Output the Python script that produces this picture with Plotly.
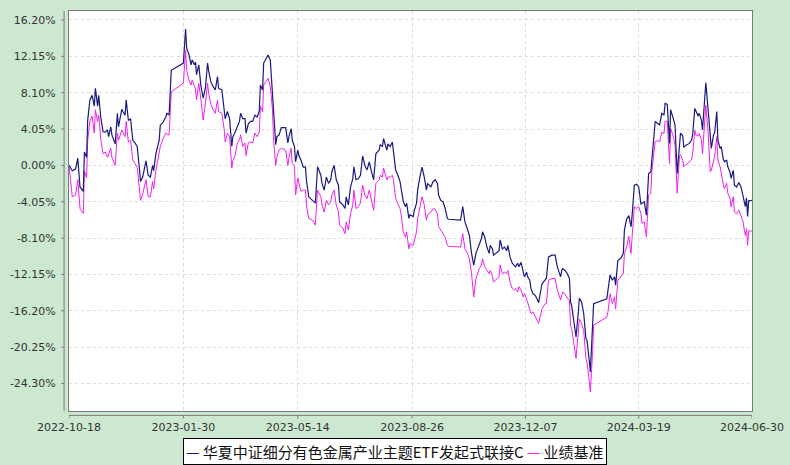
import plotly.graph_objects as go

# ---------------------------------------------------------------------
# Data (cumulative return, %)
# ---------------------------------------------------------------------
FUND_NAME = "华夏中证细分有色金属产业主题ETF发起式联接C"
BENCH_NAME = "业绩基准"

days_2022 = [
    "10-18", "10-21", "10-24", "10-26", "10-28", "10-31",
    "11-01", "11-03", "11-04", "11-06", "11-08", "11-10", "11-11", "11-13", "11-14", "11-16",
    "11-18", "11-20", "11-22", "11-23", "11-25", "11-26", "11-29",
    "12-01", "12-02", "12-05", "12-06", "12-08", "12-09", "12-11", "12-13", "12-15", "12-17",
    "12-19", "12-21", "12-22", "12-24", "12-27", "12-29", "12-31",
]
fund_2022 = [
    0.0, -0.6, -0.4, 0.8, -2.4, -2.9,
    1.5, 0.9, 5.05, 7.3, 7.8, 6.6, 8.6, 6.6, 7.8, 5.2,
    3.75, 3.7, 3.95, 3.2, 4.3, 3.4, 2.4,
    5.8, 4.3, 6.25, 6.0, 5.6, 7.3, 5.0, 5.2, 2.8, 2.5,
    2.1, -0.3, -1.8, -1.3, 0.5, -1.1, -1.3,
]
bench_2022 = [
    0.0, -3.5, -3.3, -1.6, -4.8, -5.35,
    -0.6, -1.4, 2.8, 4.9, 5.5, 3.6, 6.2, 4.9, 5.6, 2.8,
    1.3, 1.5, 0.9, 1.2, 1.9, 0.9, 0.0,
    3.6, 2.8, 3.95, 3.7, 3.2, 4.9, 2.6, 2.8, 0.6, 0.2,
    -0.2, -2.5, -3.9, -3.2, -1.6, -3.5, -3.5,
]

days_2023 = [
    "01-02", "01-03", "01-05", "01-08", "01-09", "01-11", "01-14", "01-15", "01-17", "01-18", "01-19", "01-30",
    "02-01", "02-02", "02-04", "02-06", "02-07", "02-09", "02-10", "02-11", "02-13", "02-15", "02-17", "02-19",
    "02-21", "02-22", "02-24", "02-26", "02-28",
    "03-02", "03-03", "03-06", "03-08", "03-09", "03-11", "03-13", "03-15", "03-16", "03-18", "03-20", "03-22",
    "03-23", "03-25", "03-27", "03-28", "03-30",
    "04-01", "04-03", "04-05", "04-07", "04-09", "04-10", "04-12", "04-13", "04-15", "04-17", "04-19", "04-21",
    "04-22", "04-24", "04-25", "04-27", "04-29",
    "05-03", "05-05", "05-06", "05-08", "05-09", "05-11", "05-12", "05-14", "05-15", "05-17", "05-19", "05-21",
    "05-22", "05-24", "05-26", "05-28", "05-30",
    "06-01", "06-04", "06-05", "06-07", "06-09", "06-11", "06-13", "06-14", "06-16", "06-18", "06-20", "06-21",
    "06-24", "06-26", "06-27", "06-29",
    "07-01", "07-03", "07-04", "07-06", "07-08", "07-10", "07-12", "07-14", "07-16", "07-18", "07-20", "07-22",
    "07-24", "07-27", "07-28", "07-30", "07-31",
    "08-03", "08-04", "08-06", "08-08", "08-09", "08-11", "08-13", "08-15", "08-16", "08-18", "08-20", "08-21",
    "08-23", "08-24", "08-27", "08-28", "08-30", "08-31",
    "09-02", "09-04", "09-06", "09-08", "09-09", "09-12", "09-14", "09-16", "09-18", "09-19", "09-21", "09-23",
    "09-25", "09-27", "09-28",
    "10-09", "10-11", "10-13", "10-15", "10-17", "10-19", "10-21", "10-23", "10-26", "10-28", "10-29", "10-31",
    "11-02", "11-04", "11-05", "11-07", "11-08", "11-11", "11-13", "11-14", "11-16", "11-18", "11-20", "11-21",
    "11-23", "11-25", "11-27", "11-28", "11-30",
    "12-01", "12-03", "12-05", "12-06", "12-08", "12-09", "12-11", "12-12", "12-14", "12-16", "12-18", "12-19",
    "12-22", "12-25", "12-26", "12-28", "12-31",
]
fund_2023 = [
    0.0, -0.6, 1.3, 2.8, 4.5, 4.7, 5.4, 5.8, 5.6, 7.5, 10.6, 11.4,
    15.2, 13.05, 12.4, 11.2, 11.75, 11.2, 11.5, 10.1, 11.2, 8.8, 7.5, 8.6,
    11.4, 10.5, 9.3, 8.8, 8.4,
    9.9, 8.6, 8.4, 6.2, 5.2, 6.0, 5.2, 2.1, 3.2, 3.7, 4.3, 4.9,
    5.8, 5.2, 5.2, 3.6, 4.6,
    4.9, 4.9, 5.6, 5.4, 6.0, 8.95, 8.4, 11.4, 11.9, 12.3, 11.75, 8.0,
    5.8, 2.3, 3.2, 3.4, 4.2,
    4.2, 2.5, 3.2, 4.1, 2.8, 2.1, 0.4, 1.7, 1.1, 0.55, -0.2, -0.2,
    -1.8, -3.5, -3.7, -3.9, -4.2,
    -0.15, -1.1, -2.0, -2.75, -1.3, -2.0, -1.6, -0.7, 0.0, -1.6, -2.2, -4.05,
    -4.4, -4.8, -3.5, -4.4,
    -2.4, -1.5, -0.15, -1.6, -1.5, -1.1, 1.05, 0.0, -0.5, 0.4, -0.7, -1.6,
    1.3, 1.7, 2.3, 2.1, 3.0,
    1.7, 2.4, 2.1, 2.6, 1.7, -0.5, -1.1, -1.8, -2.6, -4.05, -4.6, -4.2,
    -5.9, -5.5, -5.7, -5.0, -4.2, -2.75,
    -1.3, -0.2, -1.3, -2.75, -2.0, -2.4, -1.8, -1.6, -2.0, -3.3, -3.9, -4.05,
    -4.8, -5.9, -6.0,
    -6.1, -4.6, -6.3, -7.0, -7.8, -9.8, -11.1, -9.8, -8.9, -8.15, -7.4, -8.0,
    -9.1, -9.8, -8.9, -9.3, -10.0, -9.7, -9.5, -8.3, -9.3, -9.1, -9.5, -8.9,
    -10.2, -10.9, -11.1, -11.3, -10.9,
    -11.3, -10.8, -12.05, -12.4, -11.9, -12.4, -12.8, -13.7, -14.3, -14.5, -15.0, -15.3,
    -13.2, -12.8, -12.6, -10.2, -10.0,
]
bench_2023 = [
    -1.8, -2.6, -0.6, 1.2, 2.1, 2.8, 3.6, 3.5, 3.4, 5.8, 8.2, 9.15,
    12.85, 10.6, 9.5, 8.95, 9.5, 8.8, 8.6, 7.3, 9.15, 7.3, 5.05, 6.9,
    9.15, 8.0, 6.8, 6.2, 5.8,
    7.3, 6.0, 5.8, 4.1, 2.6, 3.6, 3.2, -0.3, 0.55, 1.1, 2.5, 2.8,
    3.4, 2.1, 2.5, 1.1, 2.5,
    2.6, 2.5, 3.6, 3.2, 3.7, 6.6, 6.0, 8.95, 9.3, 9.7, 8.8, 6.2,
    2.8, 0.0, 0.9, 1.7, 1.9,
    1.7, 0.0, 0.9, 1.9, 0.2, 0.0, -3.3, -1.4, -2.0, -2.9, -2.75, -2.75,
    -4.6, -5.9, -6.0, -6.2, -6.65,
    -2.75, -3.5, -4.4, -5.2, -3.9, -4.4, -4.05, -3.3, -2.75, -4.4, -5.2, -6.65,
    -7.0, -7.6, -6.3, -7.2,
    -5.4, -4.4, -2.75, -4.8, -4.6, -4.2, -2.2, -3.3, -3.7, -2.75, -3.9, -5.0,
    -2.0, -1.6, -1.1, -1.3, -0.3,
    -1.6, -1.3, -1.3, -1.1, -1.6, -3.7, -4.2, -4.8, -5.5, -7.4, -8.0, -7.4,
    -9.3, -8.7, -8.9, -8.3, -7.4, -5.9,
    -4.8, -3.5, -4.4, -6.1, -5.5, -5.2, -4.8, -4.9, -5.4, -6.8, -7.2, -7.6,
    -8.0, -8.9, -9.0,
    -9.1, -7.6, -9.3, -9.7, -10.4, -12.05, -14.65, -12.6, -11.5, -11.1, -10.4, -11.3,
    -11.7, -12.05, -11.7, -12.3, -13.0, -12.6, -12.4, -11.1, -12.05, -11.9, -12.05, -11.7,
    -13.0, -13.7, -13.9, -13.7, -14.1,
    -13.5, -13.9, -14.65, -14.3, -14.85, -15.2, -16.0, -16.5, -16.35, -16.9, -17.3, -17.6,
    -16.0, -15.4, -15.4, -12.8, -12.6,
]

days_2024 = [
    "01-03", "01-05", "01-07", "01-08", "01-09", "01-10", "01-12", "01-14", "01-16", "01-17", "01-18", "01-20",
    "01-22", "01-24", "01-25", "01-27", "01-29", "01-31",
    "02-01", "02-03", "02-04", "02-06", "02-07", "02-19", "02-20", "02-22", "02-24", "02-26", "02-27", "02-29",
    "03-03", "03-05", "03-06", "03-08", "03-10", "03-12", "03-13", "03-15", "03-17", "03-19", "03-21", "03-22",
    "03-24", "03-26", "03-28", "03-30", "03-31",
    "04-03", "04-05", "04-07", "04-09", "04-11", "04-12", "04-14", "04-16", "04-17", "04-19", "04-21", "04-23",
    "04-25", "04-26", "04-28", "04-29",
    "05-01", "05-04", "05-06", "05-07", "05-09", "05-10", "05-12", "05-13", "05-15", "05-16", "05-18", "05-19",
    "05-21", "05-23", "05-24", "05-26", "05-27", "05-29", "05-30",
    "06-01", "06-02", "06-04", "06-05", "06-07", "06-08", "06-10", "06-11", "06-13", "06-14", "06-16", "06-18",
    "06-20", "06-22", "06-23", "06-24", "06-25", "06-26", "06-27", "06-30",
]
fund_2024 = [
    -10.0, -11.3, -12.05, -12.4, -11.7, -11.5, -11.7, -12.05, -12.6, -15.2, -15.6, -17.3,
    -19.1, -16.5, -14.8, -15.2, -16.5, -19.3,
    -19.5, -21.7, -23.0, -18.0, -15.4, -14.85, -14.1, -12.2, -12.8, -12.4, -13.35, -10.6,
    -10.3, -9.8, -7.2, -6.0, -5.6, -6.85, -5.6, -2.2, -2.1, -2.4, -4.3, -4.2,
    -4.05, -5.55, -0.9, -0.75, 0.6,
    4.9, 4.7, 4.5, 5.8, 5.6, 6.9, 6.8, 2.45, 6.2, 5.4, 4.5, -0.9,
    2.45, 3.6, 3.3, 2.0,
    2.25, 2.45, 2.8, 3.4, 6.35, 6.0, 5.5, 5.8, 5.05, 3.95, 6.9, 9.2,
    6.35, 3.4, 1.9, 3.4, 3.6, 6.0, 2.8,
    1.9, 2.1, 0.65, 0.4, 0.6, -0.15, -0.75, -1.45, -0.55, -2.2, -2.4, -1.9,
    -2.4, -3.5, -4.4, -4.6, -3.6, -5.7, -3.95, -3.9,
]
bench_2024 = [
    -12.6, -13.9, -14.8, -15.0, -14.5, -14.1, -14.3, -14.8, -15.0, -17.8, -18.2, -19.9,
    -21.5, -18.7, -17.1, -17.6, -18.4, -21.5,
    -21.9, -23.95, -25.25, -21.0, -17.8, -16.9, -16.35, -14.3, -15.4, -14.65, -16.0, -12.8,
    -12.4, -12.05, -9.8, -9.1, -7.9, -9.8, -7.95, -4.6, -4.8, -4.6, -5.35, -6.45,
    -6.3, -7.95, -3.3, -3.1, -0.55,
    2.65, 2.75, 2.65, 3.7, 3.55, 4.9, 4.9, 0.2, 4.1, 3.4, 2.3, -3.1,
    1.0, 1.2, 0.6, -0.15,
    0.05, 0.3, 0.6, 1.3, 3.9, 3.4, 3.25, 3.55, 2.8, 1.3, 4.3, 6.7,
    3.9, -0.7, -0.55, 0.6, 1.0, 3.2, 0.6,
    -0.15, -0.9, -2.2, -2.6, -2.0, -3.1, -3.7, -4.6, -3.5, -5.2, -5.4, -5.0,
    -5.55, -6.3, -7.2, -7.8, -7.05, -8.9, -7.3, -7.3,
]

x_ticks = ["2022-10-18", "2023-01-30", "2023-05-14", "2023-08-26", "2023-12-07", "2024-03-19", "2024-06-30"]
y_ticks = [16.2, 12.15, 8.1, 4.05, 0.0, -4.05, -8.1, -12.15, -16.2, -20.25, -24.3]
y_labels = ["%.2f%%" % v for v in y_ticks]

# ---------------------------------------------------------------------
# Styling
# ---------------------------------------------------------------------
FUND_COLOR = "#1a1a80"
BENCH_COLOR = "#f020f0"
PAGE_BG = "#cde8d0"
FRAME = "#7a7a7a"
GRID = "#dcdcdc"
TICK_FONT = dict(family="DejaVu Sans", size=11, color="#333333")

dates = (["2022-" + d for d in days_2022]
         + ["2023-" + d for d in days_2023]
         + ["2024-" + d for d in days_2024])
fund = fund_2022 + fund_2023 + fund_2024
bench = bench_2022 + bench_2023 + bench_2024
assert len(dates) == len(fund) == len(bench)

fig = go.Figure()
fig.add_trace(go.Scatter(x=dates, y=bench, mode="lines", name=BENCH_NAME,
                         line=dict(color=BENCH_COLOR, width=1)))
fig.add_trace(go.Scatter(x=dates, y=fund, mode="lines", name=FUND_NAME,
                         line=dict(color=FUND_COLOR, width=1.2)))

axis_common = dict(
    tickfont=TICK_FONT,
    ticks="",
    automargin=False,
    showgrid=True,
    gridcolor=GRID,
    griddash="3px,3px",
    showline=True,
    mirror=True,
    linecolor=FRAME,
    linewidth=1,
    zeroline=False,
)

fig.update_layout(
    width=790,
    height=465,
    margin=dict(l=69, r=38, t=11, b=54),
    paper_bgcolor=PAGE_BG,
    plot_bgcolor="white",
    showlegend=False,
    xaxis=dict(type="date", range=[x_ticks[0], x_ticks[-1]],
               tickvals=x_ticks, ticktext=x_ticks, ticklabelstandoff=6, **axis_common),
    yaxis=dict(range=[-27.36, 17.2], tickvals=y_ticks, ticktext=y_labels,
               ticklabelstandoff=10, **axis_common),
)

# detached axis lines with small tick marks, like the original
shapes = [
    dict(type="line", xref="paper", yref="paper", x0=0, x1=1, y0=-0.011, y1=-0.011,
         line=dict(color=FRAME, width=1)),
    dict(type="line", xref="paper", yref="paper", x0=-0.0072, x1=-0.0072, y0=0, y1=1,
         line=dict(color=FRAME, width=1)),
]
for t in x_ticks:
    shapes.append(dict(type="line", xref="x", yref="paper", x0=t, x1=t, y0=-0.011, y1=-0.019,
                       line=dict(color=FRAME, width=1)))
for v in y_ticks:
    shapes.append(dict(type="line", xref="paper", yref="y", x0=-0.0072, x1=-0.0115, y0=v, y1=v,
                       line=dict(color=FRAME, width=1)))
fig.update_layout(shapes=shapes)

# legend box drawn as text, short coloured dashes like the original
legend_text = (
    f'<span style="color:{FUND_COLOR}">—</span> {FUND_NAME} '
    f'<span style="color:{BENCH_COLOR}">—</span> {BENCH_NAME}'
)
fig.add_annotation(
    xref="paper", yref="paper", x=0.478, y=-0.1,
    xanchor="center", yanchor="middle",
    text=legend_text, showarrow=False,
    font=dict(family="Noto Sans CJK SC", size=15, color="#111111"),
    bgcolor="white", bordercolor="black", borderwidth=1, borderpad=2,
)

# the page body has a default 8px margin; drop it so the figure fills the window
fig.write_html(
    "out.html",
    config={"displayModeBar": False},
    post_script="document.body.style.margin='0';",
)
